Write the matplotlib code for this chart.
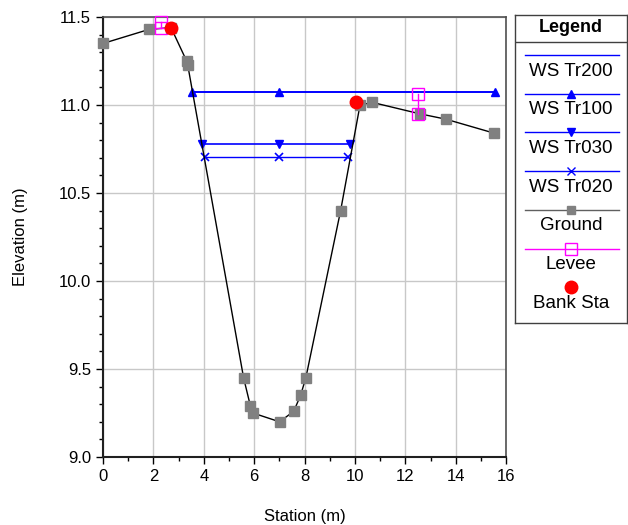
import matplotlib.pyplot as plt
import numpy as np
from matplotlib.lines import Line2D

plt.rcParams['font.family'] = ['Liberation Sans', 'DejaVu Sans']
plt.rcParams['font.size'] = 12

# ground profile
ground_x = [0.0, 1.83, 2.7, 3.32, 3.36, 5.58, 5.85, 5.95, 7.01, 7.57, 7.84, 8.05, 9.43, 10.2, 10.69, 12.58, 13.6, 15.53]
ground_y = [11.35, 11.43, 11.44, 11.25, 11.23, 9.45, 9.29, 9.25, 9.20, 9.26, 9.35, 9.45, 10.40, 11.0, 11.015, 10.95, 10.92, 10.84]

# water surfaces
ws200_x = [3.55, 15.56]
ws200_y = [11.076, 11.076]
ws100_x = [3.55, 7.0, 15.56]
ws100_y = [11.076, 11.076, 11.076]
ws030_x = [3.93, 7.0, 9.81]
ws030_y = [10.777, 10.777, 10.777]
ws020_x = [4.03, 7.0, 9.73]
ws020_y = [10.703, 10.703, 10.703]

# levees (vertical segments) and bank stations
levee_x = [2.3, 2.3, np.nan, 12.52, 12.52]
levee_y = [11.44, 11.47, np.nan, 10.95, 11.065]
bank_x = [2.7, 10.06]
bank_y = [11.44, 11.015]

blue = '#0000ff'
gray = '#808080'
mag = '#ff00ff'

fig = plt.figure(figsize=(6.28, 5.25), dpi=100)
ax = fig.add_axes([0.164, 0.1295, 0.642, 0.838])

ax.plot(ws200_x, ws200_y, color=blue, lw=1.2, zorder=3)
ax.plot(ws100_x, ws100_y, color=blue, lw=1.2, marker='^', ms=6, zorder=3)
ax.plot(ws030_x, ws030_y, color=blue, lw=1.2, marker='v', ms=6, zorder=3)
ax.plot(ws020_x, ws020_y, color=blue, lw=1.0, marker='x', ms=6, mew=1.2, zorder=3)
ax.plot(ground_x, ground_y, color='black', lw=1.0, marker='s', ms=6.5,
        mfc=gray, mec=gray, zorder=4, clip_on=False)
ax.plot(levee_x, levee_y, color=mag, lw=1.0, marker='s', ms=9,
        mfc='none', mec=mag, zorder=5, clip_on=False)
ax.plot(bank_x, bank_y, ls='none', marker='o', ms=9, color='red', zorder=6, clip_on=False)

ax.set_xlim(0, 16)
ax.set_ylim(9.0, 11.5)
ax.set_xticks(np.arange(0, 17, 2))
ax.set_xticks(np.arange(0, 17, 1), minor=True)
ax.set_yticks([9.0, 9.5, 10.0, 10.5, 11.0, 11.5])
ax.set_yticks(np.arange(9.0, 11.51, 0.1), minor=True)
ax.set_yticklabels(['9.0', '9.5', '10.0', '10.5', '11.0', '11.5'])
ax.grid(True, which='major', color='#c8c8c8', lw=1.0)
ax.tick_params(direction='out', length=5, width=1, labelsize=12)
ax.tick_params(which='minor', direction='out', length=3, width=1)
for s in ['left', 'bottom']:
    ax.spines[s].set_linewidth(1.5)
    ax.spines[s].set_color('#202020')
for s in ['top', 'right']:
    ax.spines[s].set_linewidth(1.2)
    ax.spines[s].set_color('#505050')
ax.set_xlabel('Station (m)', fontsize=12, labelpad=18)
ax.set_ylabel('Elevation (m)', fontsize=12, labelpad=22)

# legend panel
W, H = 628, 525
lx0, lx1, ly0, ly1 = 515, 627, 15, 323
lax = fig.add_axes([lx0 / W, 1 - ly1 / H, (lx1 - lx0) / W, (ly1 - ly0) / H])
lax.set_xlim(lx0, lx1)
lax.set_ylim(ly1, ly0)
lax.set_xticks([])
lax.set_yticks([])
for s in lax.spines.values():
    s.set_color('#404040')
    s.set_linewidth(1.0)
lax.text(571, 28, 'Legend', ha='center', va='center', fontsize=13, fontweight='bold')
lax.add_line(Line2D([lx0, lx1], [42, 42], color='#404040', lw=1.0))

entries = [
    ('WS Tr200', dict(color=blue, lw=1.0)),
    ('WS Tr100', dict(color=blue, lw=1.0, marker='^', ms=6)),
    ('WS Tr030', dict(color=blue, lw=1.0, marker='v', ms=6)),
    ('WS Tr020', dict(color=blue, lw=1.0, marker='x', ms=6)),
    ('Ground', dict(color='#606060', lw=1.0, marker='s', ms=6, mfc=gray, mec=gray)),
    ('Levee', dict(color=mag, lw=1.0, marker='s', ms=9, mfc='none', mec=mag)),
]
y = 55
for label, kw in entries:
    lax.add_line(Line2D([525, 571, 619], [y, y, y], markevery=[1], **kw))
    lax.text(571, y + 16, label, ha='center', va='center', fontsize=13.5)
    y += 38.7
lax.add_line(Line2D([571], [287], ls='none', marker='o', ms=9, color='red'))
lax.text(571, 303, 'Bank Sta', ha='center', va='center', fontsize=13.5)

fig.savefig('out.png', dpi=100)
